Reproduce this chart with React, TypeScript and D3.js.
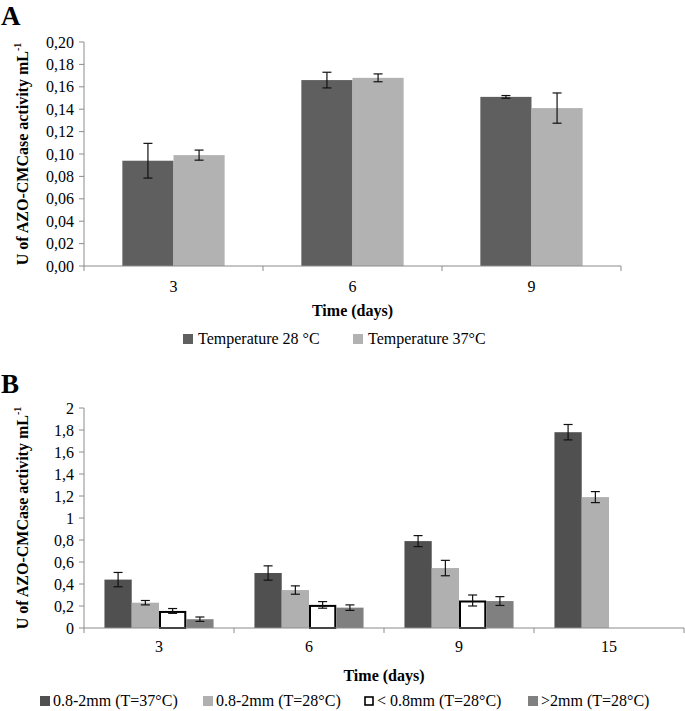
import React from "react";
import * as d3 from "d3";

// ---- Panel A data ----
const catsA = ["3", "6", "9"];
const seriesA = ["Temperature 28 °C", "Temperature 37°C"];
const valsA28 = [0.094, 0.166, 0.151];
const errA28 = [0.0155, 0.007, 0.0012];
const valsA37 = [0.099, 0.168, 0.141];
const errA37 = [0.0045, 0.0035, 0.0135];
const ticksA = [0, 0.02, 0.04, 0.06, 0.08, 0.1, 0.12, 0.14, 0.16, 0.18, 0.2];

// ---- Panel B data ----
const catsB = ["3", "6", "9", "15"];
const seriesB = ["0.8-2mm (T=37°C)", "0.8-2mm (T=28°C)", "< 0.8mm (T=28°C)", ">2mm (T=28°C)"];
const valsB1 = [0.44, 0.5, 0.79, 1.78];
const errB1 = [0.065, 0.065, 0.05, 0.07];
const valsB2 = [0.23, 0.345, 0.545, 1.19];
const errB2 = [0.02, 0.038, 0.07, 0.05];
const valsB3 = [0.155, 0.21, 0.25, null];
const errB3 = [0.022, 0.03, 0.05, null];
const valsB4 = [0.08, 0.185, 0.245, null];
const errB4 = [0.02, 0.025, 0.04, null];
const ticksB = [0, 0.2, 0.4, 0.6, 0.8, 1, 1.2, 1.4, 1.6, 1.8, 2];

const FONT = "'Liberation Serif', 'Times New Roman', serif";
const AXIS = "#8c8c8c";

type Series = {
  name: string;
  vals: (number | null)[];
  errs: (number | null)[];
  fill: string;
  stroke?: string;
};

type Panel = {
  letter: string;
  letterY: number;
  cats: string[];
  series: Series[];
  ticks: number[];
  fmt: (v: number) => string;
  x0: number;
  x1: number;
  yTop: number;
  yBot: number;
  tickLabelY: number;
  titleY: number;
  legendY: number;
  legendX: number[];
  legendGap: number;
};

function BarPanel({ p }: { p: Panel }) {
  const xBand = d3.scaleBand<string>().domain(p.cats).range([p.x0, p.x1]).paddingInner(0).paddingOuter(0);
  const bw = xBand.bandwidth();
  const barW = bw / (p.series.length + 1.5);
  const y = d3
    .scaleLinear()
    .domain([p.ticks[0], p.ticks[p.ticks.length - 1]])
    .range([p.yBot, p.yTop]);
  const boundaries = [...p.cats.map((c) => xBand(c) as number), p.x1];
  const titleCy = (p.yTop + p.yBot) / 2;
  return (
    <g>
      <text x={1} y={p.letterY} fontFamily={FONT} fontWeight="bold" fontSize={27} fill="#000">
        {p.letter}
      </text>
      {/* y axis */}
      <line x1={p.x0} x2={p.x0} y1={p.yTop} y2={p.yBot} stroke={AXIS} strokeWidth={1} />
      {p.ticks.map((t) => (
        <g key={t}>
          <line x1={p.x0 - 5} x2={p.x0} y1={y(t)} y2={y(t)} stroke={AXIS} strokeWidth={1} />
          <text
            x={p.x0 - 10}
            y={y(t)}
            dy="0.35em"
            textAnchor="end"
            fontFamily={FONT}
            fontSize={16}
            fill="#000"
          >
            {p.fmt(t)}
          </text>
        </g>
      ))}
      {/* y title */}
      <text
        transform={`translate(28,${titleCy}) rotate(-90)`}
        textAnchor="middle"
        fontFamily={FONT}
        fontWeight="bold"
        fontSize={16}
        fill="#000"
      >
        U of AZO-CMCase activity mL
        <tspan dy={-7} fontSize={10}>
          -1
        </tspan>
      </text>
      {/* bars */}
      {p.series.map((s, si) =>
        p.cats.map((c, ci) => {
          const v = s.vals[ci];
          if (v == null) return null;
          const bx = (xBand(c) as number) + barW * 0.75 + si * barW;
          const top = y(v);
          const e = s.errs[ci];
          const cx = bx + barW / 2;
          const sw = s.stroke ? 2 : 0;
          return (
            <g key={`${si}-${ci}`}>
              <rect
                x={bx + sw / 2}
                y={top + sw / 2}
                width={barW - sw}
                height={p.yBot - top - sw / 2}
                fill={s.fill}
                stroke={s.stroke || "none"}
                strokeWidth={sw}
              />
              {e != null && (
                <g stroke="#111" strokeWidth={1.2}>
                  <line x1={cx} x2={cx} y1={y(v + e)} y2={y(v - e)} />
                  <line x1={cx - 4.5} x2={cx + 4.5} y1={y(v + e)} y2={y(v + e)} />
                  <line x1={cx - 4.5} x2={cx + 4.5} y1={y(v - e)} y2={y(v - e)} />
                </g>
              )}
            </g>
          );
        })
      )}
      {/* x axis */}
      <line x1={p.x0} x2={p.x1} y1={p.yBot} y2={p.yBot} stroke={AXIS} strokeWidth={1.2} />
      {boundaries.map((bx, i) => (
        <line key={i} x1={bx} x2={bx} y1={p.yBot} y2={p.yBot + 5} stroke={AXIS} strokeWidth={1} />
      ))}
      {p.cats.map((c) => (
        <text
          key={c}
          x={(xBand(c) as number) + bw / 2}
          y={p.tickLabelY}
          textAnchor="middle"
          fontFamily={FONT}
          fontSize={16}
          fill="#000"
        >
          {c}
        </text>
      ))}
      <text
        x={(p.x0 + p.x1) / 2}
        y={p.titleY}
        textAnchor="middle"
        fontFamily={FONT}
        fontWeight="bold"
        fontSize={16}
        fill="#000"
      >
        Time (days)
      </text>
      {/* legend */}
      {p.series.map((s, si) => (
        <g key={s.name}>
          <rect
            x={p.legendX[si] + (s.stroke ? 1 : 0)}
            y={p.legendY - 10 + (s.stroke ? 1 : 0)}
            width={s.stroke ? 8 : 10}
            height={s.stroke ? 8 : 10}
            fill={s.fill}
            stroke={s.stroke || "none"}
            strokeWidth={s.stroke ? 1.6 : 0}
          />
          <text
            x={p.legendX[si] + p.legendGap}
            y={p.legendY}
            fontFamily={FONT}
            fontSize={16}
            fill="#000"
          >
            {s.name}
          </text>
        </g>
      ))}
    </g>
  );
}

export default function App() {
  const panelA: Panel = {
    letter: "A",
    letterY: 25,
    cats: catsA,
    series: [
      { name: seriesA[0], vals: valsA28, errs: errA28, fill: "#5f5f5f" },
      { name: seriesA[1], vals: valsA37, errs: errA37, fill: "#b2b2b2" },
    ],
    ticks: ticksA,
    fmt: (v) => v.toFixed(2).replace(".", ","),
    x0: 84,
    x1: 621,
    yTop: 42,
    yBot: 266,
    tickLabelY: 292,
    titleY: 316,
    legendY: 344,
    legendX: [183, 353],
    legendGap: 15,
  };
  const panelB: Panel = {
    letter: "B",
    letterY: 393,
    cats: catsB,
    series: [
      { name: seriesB[0], vals: valsB1, errs: errB1, fill: "#505050" },
      { name: seriesB[1], vals: valsB2, errs: errB2, fill: "#b0b0b0" },
      { name: seriesB[2], vals: valsB3, errs: errB3, fill: "#ffffff", stroke: "#000" },
      { name: seriesB[3], vals: valsB4, errs: errB4, fill: "#808080" },
    ],
    ticks: ticksB,
    fmt: (v) => d3.format("~g")(v).replace(".", ","),
    x0: 84,
    x1: 684,
    yTop: 408,
    yBot: 628,
    tickLabelY: 652,
    titleY: 681,
    legendY: 706,
    legendX: [40, 203, 364, 528],
    legendGap: 13,
  };
  return (
    <svg
      width={685}
      height={711}
      style={{ position: "absolute", left: 0, top: 0, background: "#fff" }}
    >
      <rect width={685} height={711} fill="#fff" />
      <BarPanel p={panelA} />
      <BarPanel p={panelB} />
    </svg>
  );
}
